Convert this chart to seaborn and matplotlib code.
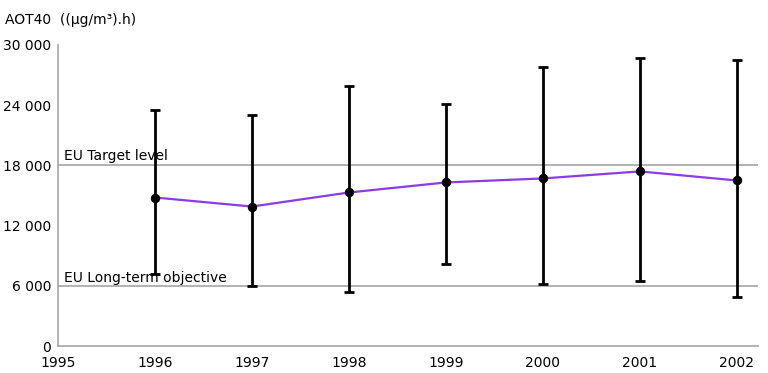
import numpy as np
import pandas as pd
import matplotlib
matplotlib.use("Agg")
import matplotlib.pyplot as plt
import seaborn as sns

# data
years = [1996, 1997, 1998, 1999, 2000, 2001, 2002]
aot40 = [14800, 13900, 15300, 16300, 16700, 17400, 16500]
upper = [23500, 23000, 25900, 24100, 27800, 28700, 28500]
lower = [7150, 5950, 5350, 8150, 6150, 6500, 4900]
target_level = 18000
long_term = 6000

df = pd.DataFrame({"Year": years, "AOT40": aot40, "upper": upper, "lower": lower})

sns.set_style("white")
plt.rcParams['font.family'] = ['DejaVu Sans']
plt.rcParams['text.color'] = 'black'

fs = 10
fig = plt.figure(figsize=(7.68, 3.73), dpi=100)
ax = fig.add_axes([58/768, 27/373, 700/768, 301/373])

# reference lines
ax.axhline(target_level, color="#a6a6a6", lw=1.2, zorder=1)
ax.axhline(long_term, color="#a6a6a6", lw=1.2, zorder=1)

# error bars
yerr = np.array([df["AOT40"] - df["lower"], df["upper"] - df["AOT40"]])
ax.errorbar(df["Year"], df["AOT40"], yerr=yerr, fmt="none", ecolor="black",
            elinewidth=2, capsize=3.5, capthick=2, zorder=2)

# line with markers
sns.lineplot(data=df, x="Year", y="AOT40", ax=ax, color="#8c3ce6", lw=1.6,
             marker="o", markersize=6, markerfacecolor="black",
             markeredgecolor="black", zorder=3)

ax.set_xlim(1995, 2002.22)
ax.set_ylim(0, 30000)
ax.set_xticks(range(1995, 2003))
ax.set_yticks(range(0, 30001, 6000))
ax.set_yticklabels([f"{v:,}".replace(",", " ") for v in range(0, 30001, 6000)])
ax.set_xlabel("")
ax.set_ylabel("")

for s in ["top", "right"]:
    ax.spines[s].set_visible(False)
for s in ["left", "bottom"]:
    ax.spines[s].set_color("#a6a6a6")
    ax.spines[s].set_linewidth(1.2)
ax.tick_params(axis="both", direction="out", length=3, width=1, color="#a6a6a6",
               labelsize=fs, labelcolor="black", pad=2)
ax.tick_params(axis="x", pad=4)

ax.text(1995.06, target_level + 200, "EU Target level", fontsize=fs, va="bottom", ha="left")
ax.text(1995.06, long_term + 100, "EU Long-term objective", fontsize=fs, va="bottom", ha="left")

fig.text(5/768, 1 - 20/373, "AOT40  ((µg/m³).h)", fontsize=fs, va="center", ha="left")

fig.savefig("out.png", dpi=100)
